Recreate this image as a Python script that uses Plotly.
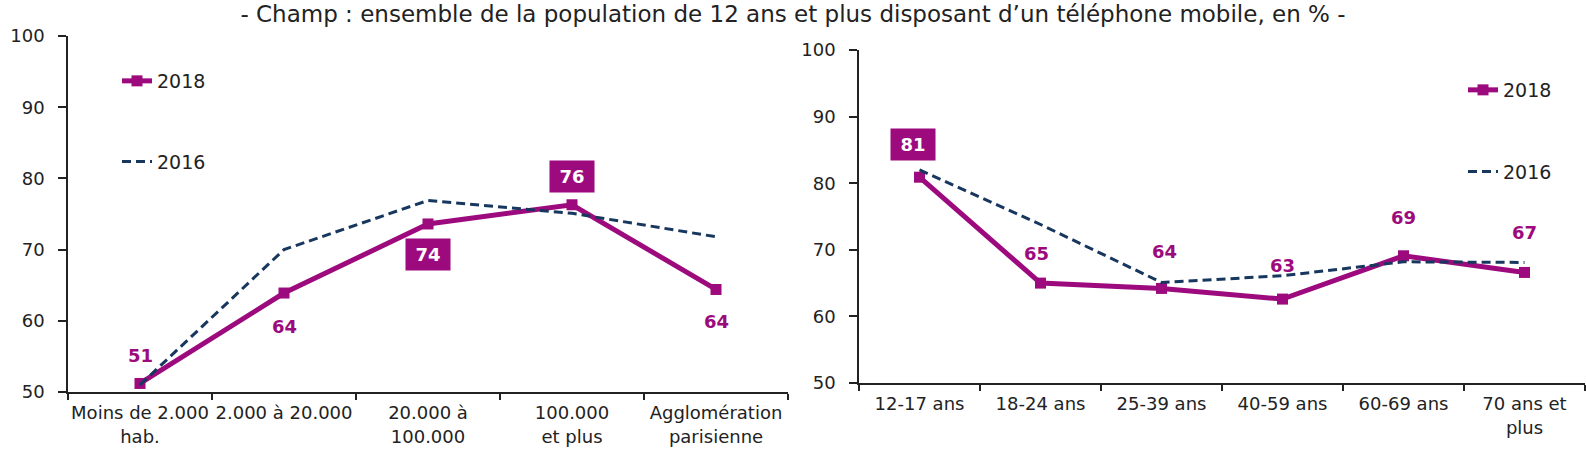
import plotly.graph_objects as go

# ---- data ----
commune_cats = ["Moins de 2.000<br>hab.", "2.000 à 20.000", "20.000 à<br>100.000",
                "100.000<br>et plus", "Agglomération<br>parisienne"]
commune_2018 = [51.2, 63.9, 73.6, 76.3, 64.4]
commune_2016 = [51.0, 70.0, 76.9, 75.1, 71.8]

age_cats = ["12-17 ans", "18-24 ans", "25-39 ans", "40-59 ans", "60-69 ans", "70 ans et<br>plus"]
age_2018 = [80.9, 65.0, 64.2, 62.6, 69.1, 66.6]
age_2016 = [82.0, 73.8, 65.1, 66.1, 68.2, 68.1]

# label placement (pixel offsets) and boxed flags
commune_shift = [28, -33, -31, 28, -32]
commune_xshift = [0, 0, 0, 0, 0]
commune_box = [False, False, True, True, False]
age_shift = [33, 30, 37, 34, 38, 40]
age_xshift = [-6, -4, 3, 0, 0, 0]
age_box = [True, False, False, False, False, False]

title_text = "- Champ : ensemble de la population de 12 ans et plus disposant d\u2019un téléphone mobile, en % -"

W, H = 1586, 459
MAG = "#9C0A7E"
NAVY = "#17375E"
FONT = "DejaVu Sans"
TXT = "#222222"

fig = go.Figure()

def add_series(cats, v18, v16, xa, ya, leg):
    fig.add_trace(go.Scatter(x=cats, y=v18, name="2018", mode="lines+markers",
                             line=dict(color=MAG, width=5), marker=dict(symbol="square", size=11, color=MAG),
                             xaxis=xa, yaxis=ya, legend=leg, legendgroup=leg + "a", cliponaxis=False))
    fig.add_trace(go.Scatter(x=cats, y=v16, name="2016", mode="lines",
                             line=dict(color=NAVY, width=3, dash="9px,5px"),
                             xaxis=xa, yaxis=ya, legend=leg, legendgroup=leg + "b", cliponaxis=False))

add_series(commune_cats, commune_2018, commune_2016, "x", "y", "legend")
add_series(age_cats, age_2018, age_2016, "x2", "y2", "legend2")

def add_labels(cats, vals, shifts, xshifts, boxes, xr, yr):
    for c, v, s, xs, b in zip(cats, vals, shifts, xshifts, boxes):
        txt = str(int(round(v)))
        if b:
            fig.add_annotation(x=c, y=v, xref=xr, yref=yr, text=f"<b>{txt}</b>", showarrow=False,
                               yshift=s, xshift=xs, font=dict(family=FONT, size=18, color="white"),
                               bgcolor=MAG, borderpad=5, width=34)
        else:
            fig.add_annotation(x=c, y=v, xref=xr, yref=yr, text=f"<b>{txt}</b>", showarrow=False,
                               yshift=s, xshift=xs, font=dict(family=FONT, size=18, color=MAG))

add_labels(commune_cats, commune_2018, commune_shift, commune_xshift, commune_box, "x", "y")
add_labels(age_cats, age_2018, age_shift, age_xshift, age_box, "x2", "y2")

axis_common = dict(showgrid=False, zeroline=False, showline=True, linecolor="#222222", linewidth=1.5,
                   ticks="outside", tickcolor="#222222", tickwidth=1.5, automargin=False,
                   tickfont=dict(family=FONT, size=18, color=TXT))

fig.update_layout(
    template="none",
    width=W, height=H, margin=dict(l=0, r=0, t=0, b=0, pad=0),
    plot_bgcolor="white", paper_bgcolor="white",
    title=dict(text=title_text, x=0.5, xanchor="center", y=1 - 14 / H, yanchor="middle",
               font=dict(family=FONT, size=23, color=TXT)),
    xaxis=dict(domain=[68 / W, 788 / W], anchor="y", type="category", range=[-0.5, 4.5],
               tickangle=0, tickson="boundaries", ticklen=6, ticklabelstandoff=4, **axis_common),
    yaxis=dict(domain=[1 - 392 / H, 1 - 36 / H], anchor="x", range=[50, 100], dtick=10,
               ticklen=8, ticklabelstandoff=10, **axis_common),
    xaxis2=dict(domain=[859 / W, 1585 / W], anchor="y2", type="category", range=[-0.5, 5.5],
                tickangle=0, tickson="boundaries", ticklen=6, ticklabelstandoff=4, **axis_common),
    yaxis2=dict(domain=[1 - 383 / H, 1 - 50 / H], anchor="x2", range=[50, 100], dtick=10,
                ticklen=8, ticklabelstandoff=10, **axis_common),
    legend=dict(x=117 / W, xanchor="left", y=1 - 62 / H, yanchor="top", traceorder="grouped",
                tracegroupgap=53, bgcolor="rgba(0,0,0,0)", font=dict(family=FONT, size=19, color=TXT)),
    legend2=dict(x=1463 / W, xanchor="left", y=1 - 71 / H, yanchor="top", traceorder="grouped",
                 tracegroupgap=54, bgcolor="rgba(0,0,0,0)", font=dict(family=FONT, size=19, color=TXT)),
)

fig.write_html("out.html")
